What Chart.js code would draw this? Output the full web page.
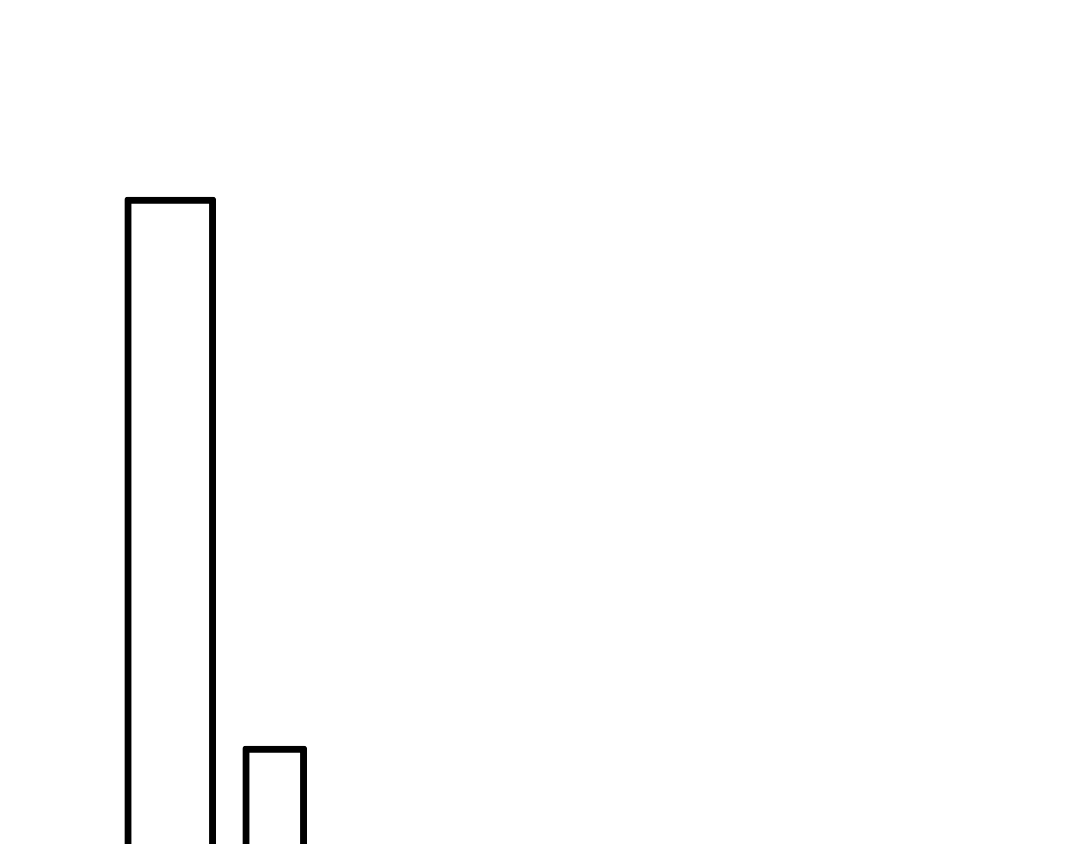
<!DOCTYPE html>
<html>
<head>
<meta charset="utf-8">
<script src="https://cdn.jsdelivr.net/npm/chart.js@4"></script>
<style>
  html, body { margin: 0; padding: 0; background: #fff; overflow: hidden; }
  #wrap { width: 1080px; height: 844px; overflow: hidden; }
</style>
</head>
<body>
<div id="wrap"><canvas id="chart" width="1080" height="1000"></canvas></div>
<script>
const categories = ['A', 'B'];
const wideValues = [80.3, null];
const narrowValues = [null, 25.4];
const yMax = 100;

const ctx = document.getElementById('chart').getContext('2d');
new Chart(ctx, {
  type: 'bar',
  data: {
    labels: categories,
    datasets: [
      {
        data: wideValues,
        backgroundColor: '#ffffff',
        borderColor: '#000000',
        borderWidth: 7,
        borderRadius: 3,
        borderSkipped: 'bottom',
        barThickness: 91,
        grouped: false,
      },
      {
        data: narrowValues,
        backgroundColor: '#ffffff',
        borderColor: '#000000',
        borderWidth: 7,
        borderRadius: 3,
        borderSkipped: 'bottom',
        barThickness: 64,
        grouped: false,
      },
    ],
  },
  options: {
    responsive: false,
    animation: false,
    devicePixelRatio: 1,
    layout: { padding: { left: 118, right: 753, top: 0, bottom: 0 } },
    plugins: { legend: { display: false }, tooltip: { enabled: false } },
    scales: {
      x: { display: false },
      y: { display: false, min: 0, max: yMax },
    },
  },
});
</script>
</body>
</html>
